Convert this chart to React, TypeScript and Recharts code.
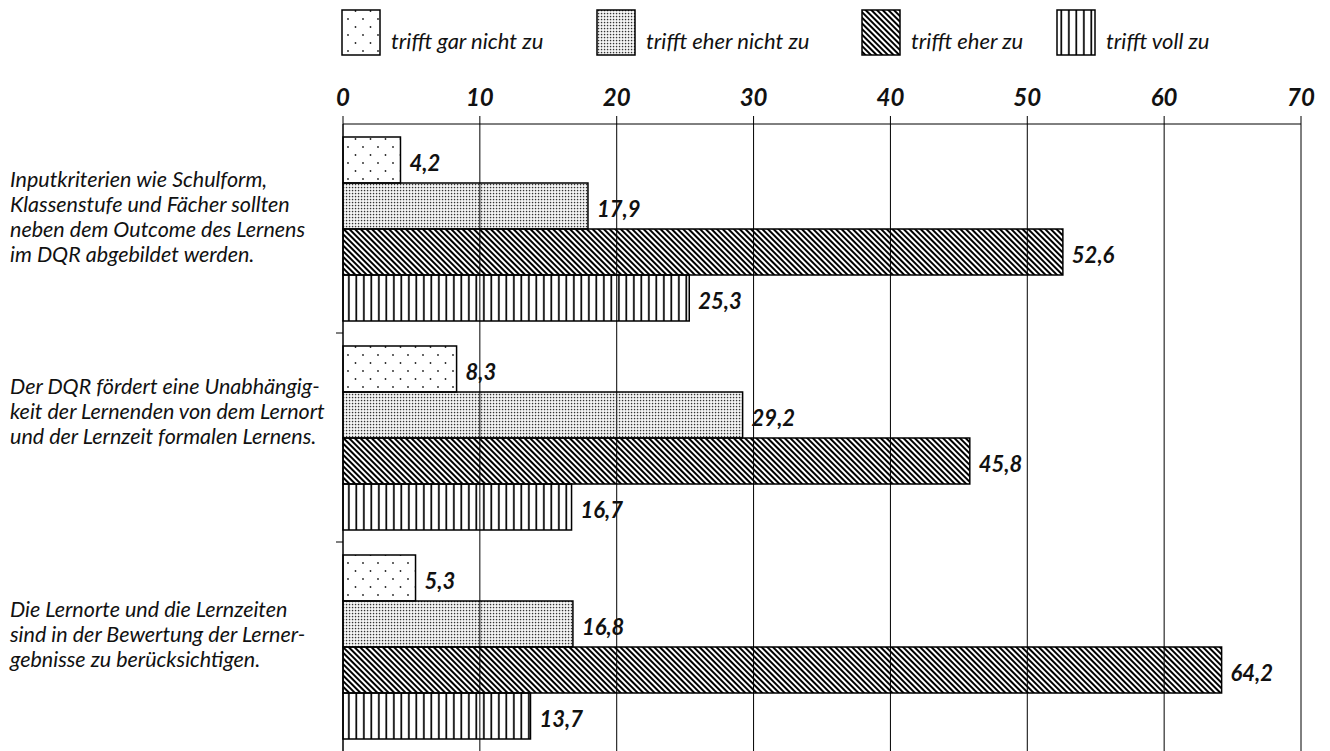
import { Bar, BarChart, CartesianGrid, LabelList, Legend, XAxis, YAxis } from "recharts";

// Survey answers (percent) for three statements about the DQR
const questionIds = ["q1", "q2", "q3"];
const questionLines = [
	[
		"Inputkriterien wie Schulform,",
		"Klassenstufe und Fächer sollten",
		"neben dem Outcome des Lernens",
		"im DQR abgebildet werden.",
	],
	[
		"Der DQR fördert eine Unabhängig-",
		"keit der Lernenden von dem Lernort",
		"und der Lernzeit formalen Lernens.",
	],
	[
		"Die Lernorte und die Lernzeiten",
		"sind in der Bewertung der Lerner-",
		"gebnisse zu berücksichtigen.",
	],
];
const garNichtZu = [4.2, 8.3, 5.3];
const eherNichtZu = [17.9, 29.2, 16.8];
const eherZu = [52.6, 45.8, 64.2];
const vollZu = [25.3, 16.7, 13.7];
const seriesNames = [
	"trifft gar nicht zu",
	"trifft eher nicht zu",
	"trifft eher zu",
	"trifft voll zu",
];
const xTicks = [0, 10, 20, 30, 40, 50, 60, 70];

const seriesKeys = ["garNicht", "eherNicht", "eherZu", "vollZu"];
const patternIds = ["pat-sparse", "pat-dense", "pat-diag", "pat-vert"];
const legendX = [342, 597, 862, 1057];
// vertical nudge of each question block relative to its band centre
const labelShift = [-12.5, -27, -12.5];

const data = questionIds.map((id, i) => ({
	id,
	garNicht: garNichtZu[i],
	eherNicht: eherNichtZu[i],
	eherZu: eherZu[i],
	vollZu: vollZu[i],
}));

const FONT = "Lato, 'Open Sans', sans-serif";
const AXIS_X = 343;

function QuestionTick(props: any) {
	const { y, payload } = props;
	const index = props.index ?? payload.index ?? 0;
	const lines = questionLines[index] ?? [];
	const lh = 25;
	const top = y + (labelShift[index] ?? 0) - ((lines.length - 1) * lh) / 2;
	const half = payload.offset ?? 0;
	return (
		<g>
			{lines.map((line, i) => (
				<text
					key={line}
					x={10}
					y={top + i * lh}
					dominantBaseline="central"
					fontFamily={FONT}
					fontStyle="italic"
					fontSize={21.5}
					fill="#111"
				>
					{line}
				</text>
			))}
			{index < questionLines.length - 1 && (
				<line
					x1={AXIS_X - 7}
					x2={AXIS_X}
					y1={y + half}
					y2={y + half}
					stroke="#000"
					strokeWidth={1}
				/>
			)}
		</g>
	);
}

function ValueLabel(props: any) {
	const { x, y, width, height, value } = props;
	return (
		<text
			x={x + width + 9}
			y={y + height / 2 + 3}
			dominantBaseline="central"
			fontFamily={FONT}
			fontStyle="italic"
			fontWeight={700}
			fontSize={22}
			fill="#111"
		>
			{String(value).replace(".", ",")}
		</text>
	);
}

function PatternLegend() {
	return (
		<svg width={1330} height={66} style={{ display: "block" }}>
			{seriesNames.map((name, i) => (
				<g key={name}>
					<rect
						x={legendX[i]}
						y={10}
						width={38}
						height={45}
						fill={`url(#${patternIds[i]})`}
						stroke="#000"
						strokeWidth={1.5}
					/>
					<text
						x={legendX[i] + 49}
						y={49}
						fontFamily={FONT}
						fontStyle="italic"
						fontSize={22}
						fill="#111"
					>
						{name}
					</text>
				</g>
			))}
		</svg>
	);
}

export default function App() {
	return (
		<div style={{ position: "absolute", left: 0, top: 0, background: "#fff" }}>
			<BarChart
				width={1330}
				height={751}
				data={data}
				layout="vertical"
				margin={{ top: 0, right: 29, bottom: 0, left: 0 }}
				barGap={0}
				barCategoryGap="6.2%"
			>
				<defs>
					<pattern id="pat-sparse" patternUnits="userSpaceOnUse" width={15} height={16}>
						<circle cx={3} cy={3} r={0.9} fill="#222" />
						<circle cx={10.5} cy={11} r={0.9} fill="#222" />
					</pattern>
					<pattern id="pat-dense" patternUnits="userSpaceOnUse" width={3} height={3}>
						<rect x={0.8} y={0.8} width={1.5} height={1.5} fill="#333" />
					</pattern>
					<pattern
						id="pat-diag"
						patternUnits="userSpaceOnUse"
						width={4}
						height={4}
						patternTransform="rotate(-45)"
					>
						<rect x={0} y={0} width={2} height={4} fill="#000" />
					</pattern>
					<pattern id="pat-vert" patternUnits="userSpaceOnUse" width={7.5} height={10}>
						<rect x={3} y={0} width={1.7} height={10} fill="#000" />
					</pattern>
				</defs>
				<CartesianGrid horizontal={false} stroke="#000" strokeWidth={1} />
				<XAxis
					type="number"
					orientation="top"
					domain={[0, 70]}
					ticks={xTicks}
					height={124}
					axisLine={{ stroke: "#000", strokeWidth: 1 }}
					tickLine={{ stroke: "#000", strokeWidth: 1 }}
					tickSize={8}
					tickMargin={10}
					tick={{
						fill: "#111",
						fontFamily: FONT,
						fontStyle: "italic",
						fontWeight: 700,
						fontSize: 24,
					}}
				/>
				<YAxis
					type="category"
					dataKey="id"
					width={AXIS_X}
					axisLine={{ stroke: "#000", strokeWidth: 1 }}
					tickLine={false}
					tick={<QuestionTick />}
				/>
				<Legend
					layout="horizontal"
					verticalAlign="middle"
					align="center"
					wrapperStyle={{ top: 0, left: 0, width: 1330, height: 66 }}
					content={<PatternLegend />}
				/>
				{seriesKeys.map((key, i) => (
					<Bar
						key={key}
						dataKey={key}
						name={seriesNames[i]}
						fill={`url(#${patternIds[i]})`}
						stroke="#000"
						strokeWidth={1.5}
						isAnimationActive={false}
					>
						<LabelList dataKey={key} content={<ValueLabel />} />
					</Bar>
				))}
			</BarChart>
		</div>
	);
}
